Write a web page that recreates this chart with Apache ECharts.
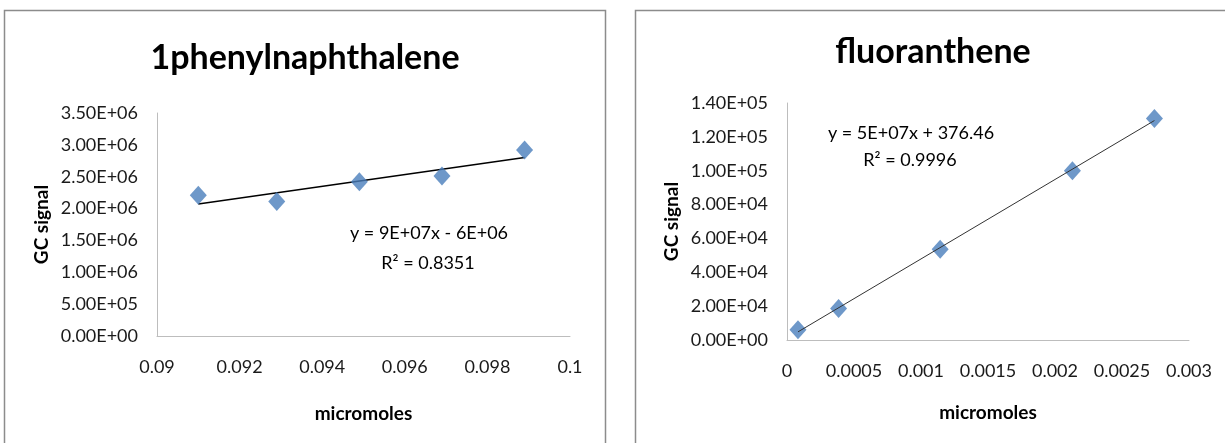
<!DOCTYPE html>
<html>
<head>
<meta charset="utf-8">
<script src="https://cdn.jsdelivr.net/npm/echarts@6/dist/echarts.min.js"></script>
<style>
  html, body { margin: 0; padding: 0; background: #ffffff; }
  #chart { width: 1225px; height: 443px; }
</style>
</head>
<body>
<div id="chart"></div>
<script>
// Calibration data: 1-phenylnaphthalene
const phenylX = [0.0910, 0.0929, 0.0949, 0.0969, 0.0989];
const phenylY = [2210000, 2110000, 2420000, 2510000, 2920000];
const phenylEquation = ['y = 9E+07x - 6E+06', 'R\u00B2 = 0.8351'];

// Calibration data: fluoranthene
const fluorX = [0.000082, 0.000385, 0.001143, 0.00213, 0.002742];
const fluorY = [6000, 18600, 53600, 100000, 130800];
const fluorEquation = ['y = 5E+07x + 376.46', 'R\u00B2 = 0.9996'];

const titles = ['1phenylnaphthalene', 'fluoranthene'];
const xTitle = 'micromoles';
const yTitle = 'GC signal';

// least-squares line through the points, spanning the x range of the data
function trend(xs, ys) {
  const n = xs.length;
  const mx = xs.reduce((a, b) => a + b, 0) / n;
  const my = ys.reduce((a, b) => a + b, 0) / n;
  let sxy = 0, sxx = 0;
  for (let i = 0; i < n; i++) {
    sxy += (xs[i] - mx) * (ys[i] - my);
    sxx += (xs[i] - mx) * (xs[i] - mx);
  }
  const m = sxy / sxx, b = my - m * mx;
  const x0 = Math.min(...xs), x1 = Math.max(...xs);
  return [[x0, m * x0 + b], [x1, m * x1 + b]];
}

function sci(v) {
  const s = v.toExponential(2).toUpperCase();
  const parts = s.split('E');
  const sign = parts[1][0];
  let exp = parts[1].slice(1);
  if (exp.length < 2) exp = '0' + exp;
  return parts[0] + 'E' + sign + exp;
}
function plain(v) { return String(parseFloat(v.toPrecision(6))); }

const FONT = 'Lato, "Noto Sans", sans-serif';
const axisLine = { show: true, lineStyle: { color: '#bdbdbd', width: 1 } };

function xAxis(grid, min, max, interval, gap) {
  return {
    type: 'value', gridIndex: grid, min: min, max: max, interval: interval,
    axisLine: axisLine, axisTick: { show: false }, splitLine: { show: false },
    axisLabel: { formatter: plain, color: '#1a1a1a', fontFamily: FONT, fontSize: 18, margin: 22 },
    name: xTitle, nameLocation: 'middle', nameGap: gap,
    nameTextStyle: { fontFamily: FONT, fontWeight: 'bold', fontSize: 19, color: '#000' }
  };
}
function yAxis(grid, max, interval, gap) {
  return {
    type: 'value', gridIndex: grid, min: 0, max: max, interval: interval,
    axisLine: axisLine, axisTick: { show: false }, splitLine: { show: false },
    axisLabel: { formatter: sci, color: '#1a1a1a', fontFamily: FONT, fontSize: 18, margin: 19 },
    name: yTitle, nameLocation: 'middle', nameGap: gap,
    nameTextStyle: { fontFamily: FONT, fontWeight: 'bold', fontSize: 19, color: '#000' }
  };
}

const markerStyle = { color: '#4a7ebb' };

function textEl(x, y, str, size, weight) {
  return {
    type: 'text', x: x, y: y,
    style: { text: str, fontFamily: FONT, fontSize: size, fontWeight: weight || 'normal',
             fill: '#000', align: 'center', verticalAlign: 'middle' }
  };
}

const chart = echarts.init(document.getElementById('chart'), null, { renderer: 'canvas' });
chart.setOption({
  backgroundColor: '#ffffff',
  animation: false,
  grid: [
    { left: 157, top: 113, width: 413, height: 223 },
    { left: 787, top: 103, width: 402, height: 237 }
  ],
  xAxis: [
    xAxis(0, 0.09, 0.1, 0.002, 68),
    xAxis(1, 0, 0.003, 0.0005, 63)
  ],
  yAxis: [
    yAxis(0, 3500000, 500000, 106),
    yAxis(1, 140000, 20000, 106)
  ],
  series: [
    { type: 'line', xAxisIndex: 0, yAxisIndex: 0, data: trend(phenylX, phenylY),
      showSymbol: false, lineStyle: { color: '#000', width: 1.5 }, z: 2 },
    { type: 'scatter', xAxisIndex: 0, yAxisIndex: 0,
      data: phenylX.map((x, i) => [x, phenylY[i]]),
      symbol: 'diamond', symbolSize: [17, 19], itemStyle: markerStyle, z: 3 },
    { type: 'line', xAxisIndex: 1, yAxisIndex: 1, data: trend(fluorX, fluorY),
      showSymbol: false, lineStyle: { color: '#333', width: 1 }, z: 2 },
    { type: 'scatter', xAxisIndex: 1, yAxisIndex: 1,
      data: fluorX.map((x, i) => [x, fluorY[i]]),
      symbol: 'diamond', symbolSize: [17, 19], itemStyle: markerStyle, z: 1 }
  ],
  graphic: [
    { type: 'rect', shape: { x: 4.5, y: 10.5, width: 601, height: 440 },
      style: { fill: 'none', stroke: '#8c8c8c', lineWidth: 1.5 }, silent: true },
    { type: 'rect', shape: { x: 635.5, y: 10.5, width: 600, height: 440 },
      style: { fill: 'none', stroke: '#8c8c8c', lineWidth: 1.5 }, silent: true },
    textEl(305, 58, titles[0], 34, 'bold'),
    textEl(933, 52, titles[1], 34, 'bold'),
    textEl(429, 233, phenylEquation[0], 18),
    textEl(428, 263, phenylEquation[1], 18),
    textEl(911, 133, fluorEquation[0], 18),
    textEl(910, 160, fluorEquation[1], 18)
  ]
});
</script>
</body>
</html>
